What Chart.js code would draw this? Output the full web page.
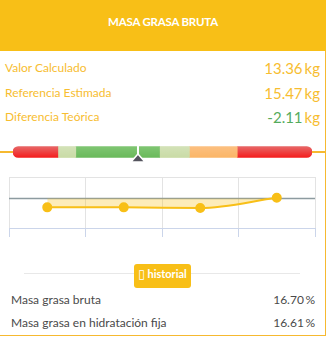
<!DOCTYPE html>
<html lang="es">
<head>
<meta charset="UTF-8">
<title>Masa grasa bruta</title>
<script src="https://cdn.jsdelivr.net/npm/chart.js@4.4.0/dist/chart.umd.min.js"></script>
<style>
    body {
        margin: 0;
        width: 327px;
        height: 338px;
        overflow: hidden;
        position: relative;
        background: #fff;
        font-family: Lato, "Noto Sans", sans-serif;
    }
    .card {
        position: absolute;
        left: 0; top: 0;
        width: 325px; height: 335px;
        border-right: 1px solid #f6b930;
        border-bottom: 1px solid #f6b930;
    }
    .header {
        position: absolute;
        left: 0; top: 0;
        width: 326px; height: 51px;
        background: #f8bf17;
        color: #fff;
        font-weight: 700;
        font-size: 11.5px;
        letter-spacing: -0.2px;
        text-align: center;
        line-height: 44px;
    }
    .row {
        position: absolute;
        left: 5px; width: 315px;
        height: 20px; line-height: 20px;
        color: #f7bd30;
        font-size: 12px;
    }
    .row .v {
        position: absolute;
        right: 0; top: 0;
        font-size: 15px;
    }
    .row .v .u { margin-left: 2px; }
    .green { color: #55ab5c; }
    .gauge-line {
        position: absolute;
        left: 0; top: 151px;
        width: 325px; height: 1.5px;
        background: #f6b930;
    }
    .gauge {
        position: absolute;
        left: 13px; top: 146px;
        width: 299px; height: 19px;
    }
    .trend {
        position: absolute;
        left: 0; top: 170px;
        width: 325px; height: 70px;
    }
    .sep {
        position: absolute;
        left: 24px; top: 273px;
        width: 276px; height: 1px;
        background: #e8e8e8;
    }
    .btn {
        position: absolute;
        left: 134px; top: 264px;
        width: 57px; height: 24px;
        background: #f8bf17;
        border-radius: 3px;
        color: #fff;
        font-weight: 700;
        font-size: 11px;
        text-align: center;
        line-height: 20px;
    }
    .btn .ico { font-family: "DejaVu Sans"; font-weight: 400; font-size: 12px; }
    .foot {
        position: absolute;
        left: 11px; width: 304px;
        height: 20px; line-height: 20px;
        color: #4a4a4a;
        font-size: 12px;
    }
    .foot span { position: absolute; right: 0; top: 0; }
</style>
</head>
<body>
<div class="card"></div>
<div class="header">MASA GRASA BRUTA</div>

<div class="row" style="top:58px">Valor Calculado<span class="v">13.36<span class="u">kg</span></span></div>
<div class="row" style="top:83px">Referencia Estimada<span class="v">15.47<span class="u">kg</span></span></div>
<div class="row" style="top:107px">Diferencia Teórica<span class="v"><span class="green">-2.11</span><span class="u">kg</span></span></div>

<div class="gauge-line"></div>
<div class="gauge"><canvas id="gauge"></canvas></div>
<div class="trend"><canvas id="trend"></canvas></div>

<div class="sep"></div>
<div class="btn"><span class="ico">&#9647;</span> historial</div>

<div class="foot" style="top:290px">Masa grasa bruta<span>16.70&#8201;%</span></div>
<div class="foot" style="top:313px">Masa grasa en hidratación fija<span>16.61&#8201;%</span></div>

<script>
    // gauge segments (widths, percent of the range) and marker position
    const gaugeSegments = [15, 6, 28, 10, 16, 25];
    const gaugeValue = 41.8;

    // history
    const historyLabels = ['1', '2', '3', '4'];
    const historyValues = [13.36, 13.36, 13.22, 15.62];
    const referenceValue = 15.47;

    const segColors = ['#f51a1a', '#c9dba5', '#69b95a', '#c9dba5', '#fbb565', '#f51a1a'];
    const segTops = ['#e66a6a', '#d3e2b8', '#80c673', '#d3e2b8', '#fcc081', '#e66a6a'];

    function segGradient(i) {
        return function(context) {
            const area = context.chart.chartArea;
            if (!area) return segColors[i];
            const g = context.chart.ctx.createLinearGradient(0, area.top, 0, area.bottom);
            g.addColorStop(0, segTops[i]);
            g.addColorStop(1, segColors[i]);
            return g;
        };
    }

    const last = gaugeSegments.length - 1;
    const gaugeDatasets = gaugeSegments.map((w, i) => ({
        data: [w],
        backgroundColor: segGradient(i),
        barThickness: 11,
        borderSkipped: false,
        borderRadius: i === 0 ? {topLeft: 6, bottomLeft: 6} :
                      i === last ? {topRight: 6, bottomRight: 6} : 0
    }));

    const pointerPlugin = {
        id: 'pointer',
        afterDatasetsDraw(chart) {
            const ctx = chart.ctx;
            const x = chart.scales.x.getPixelForValue(gaugeValue);
            const bar = chart.getDatasetMeta(0).data[0];
            const cy = bar.y;
            ctx.save();
            ctx.fillStyle = '#fff';
            ctx.fillRect(x - 1, 0, 2, cy + 2);
            ctx.beginPath();
            ctx.moveTo(x, cy + 2);
            ctx.lineTo(x + 7, cy + 10);
            ctx.lineTo(x - 7, cy + 10);
            ctx.closePath();
            ctx.fillStyle = '#54545e';
            ctx.fill();
            ctx.strokeStyle = '#fff';
            ctx.lineWidth = 1.5;
            ctx.stroke();
            ctx.restore();
        }
    };

    new Chart(document.getElementById('gauge'), {
        type: 'bar',
        data: { labels: [''], datasets: gaugeDatasets },
        options: {
            indexAxis: 'y',
            responsive: true,
            maintainAspectRatio: false,
            animation: false,
            layout: { padding: { top: 0, bottom: 7, left: 0, right: 0 } },
            plugins: { legend: { display: false }, tooltip: { enabled: false } },
            scales: {
                x: { stacked: true, min: 0, max: 100, display: false },
                y: { stacked: true, display: false }
            }
        },
        plugins: [pointerPlugin]
    });

    // horizontal reference line across the plot
    const refLine = {
        id: 'refLine',
        beforeDatasetsDraw(chart) {
            const ctx = chart.ctx;
            const y = chart.scales.y.getPixelForValue(referenceValue);
            const a = chart.chartArea;
            ctx.save();
            ctx.strokeStyle = '#8d9ba0';
            ctx.lineWidth = 1.5;
            ctx.beginPath();
            ctx.moveTo(a.left, y);
            ctx.lineTo(a.right, y);
            ctx.stroke();
            ctx.restore();
        }
    };

    new Chart(document.getElementById('trend'), {
        type: 'line',
        data: {
            labels: historyLabels,
            datasets: [{
                data: historyValues,
                borderColor: '#f8bf17',
                borderWidth: 2,
                backgroundColor: 'rgba(248, 191, 23, 0.3)',
                fill: { value: referenceValue },
                pointRadius: 4,
                pointBackgroundColor: '#f8bf17',
                pointBorderColor: '#f8bf17',
                cubicInterpolationMode: 'monotone'
            }]
        },
        options: {
            responsive: true,
            maintainAspectRatio: false,
            animation: false,
            layout: { padding: { left: 9, right: 10, top: 7, bottom: 3 } },
            plugins: { legend: { display: false }, tooltip: { enabled: false } },
            scales: {
                x: {
                    offset: true,
                    grid: { offset: true, color: '#e3e3e3', tickColor: '#cbd5ea', tickLength: 9 },
                    border: { color: '#cbd5ea' },
                    ticks: { display: false }
                },
                y: {
                    min: 8.5,
                    max: 20.5,
                    afterBuildTicks: s => { s.ticks = [{ value: s.max }]; },
                    grid: { color: '#e3e3e3', drawTicks: false },
                    border: { display: false },
                    ticks: { display: false }
                }
            }
        },
        plugins: [refLine]
    });
</script>
</body>
</html>
